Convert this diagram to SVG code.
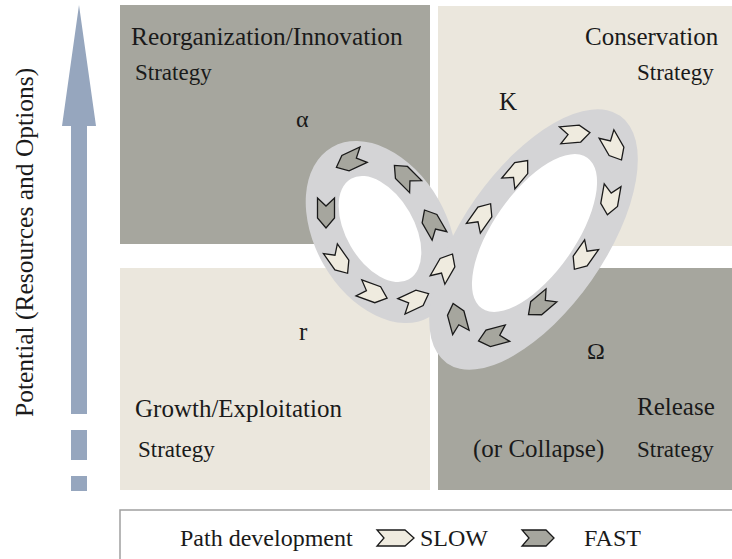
<svg xmlns="http://www.w3.org/2000/svg" xmlns:xlink="http://www.w3.org/1999/xlink" width="732" height="559" viewBox="0 0 732 559">
<defs>
<style>
.dark{fill:#a6a69e}
.light{fill:#ebe7dd}
.t{font-family:"Liberation Serif","Times New Roman",serif;fill:#1a1a1a}
.ring{fill:#d4d4d6}
.hole{fill:#ffffff}
.cl{fill:#efebdf;stroke:#1a1a1a;stroke-width:1.3;stroke-linejoin:miter}
.cd{fill:#a6a69e;stroke:#1a1a1a;stroke-width:1.3;stroke-linejoin:miter}
</style>
<polygon id="chev" points="-15,-8.5 5,-8.5 15,0 5,8.5 -15,8.5 -7,0"/>
</defs>
<rect width="732" height="559" fill="#ffffff"/>

<g id="axis">
<polygon points="79,5 96,126 87,126 87,414 71,414 71,126 62,126" fill="#96a6be"/>
<rect x="71" y="430" width="16" height="30" fill="#96a6be"/>
<rect x="71" y="476" width="16" height="15" fill="#96a6be"/>
<text class="t" font-size="25.5" transform="translate(33,417) rotate(-90)">Potential (Resources and Options)</text>
</g>

<g id="alpha-quadrant">
<rect class="dark" x="120" y="5" width="310" height="239"/>
<text class="t" x="131" y="45" font-size="25.4">Reorganization/Innovation</text>
<text class="t" x="135" y="80" font-size="23">Strategy</text>
<text class="t" x="296" y="127" font-size="24">α</text>
</g>

<g id="k-quadrant">
<rect class="light" x="438" y="6" width="294" height="240"/>
<text class="t" x="585" y="45" font-size="25">Conservation</text>
<text class="t" x="637" y="80" font-size="23">Strategy</text>
<text class="t" x="499" y="110" font-size="25">K</text>
</g>

<g id="r-quadrant">
<rect class="light" x="120" y="268" width="310" height="222"/>
<text class="t" x="299" y="340" font-size="25">r</text>
<text class="t" x="135" y="417" font-size="25">Growth/Exploitation</text>
<text class="t" x="138" y="457" font-size="23">Strategy</text>
</g>

<g id="omega-quadrant">
<rect class="dark" x="438" y="268" width="294" height="222"/>
<text class="t" x="587" y="359" font-size="24">Ω</text>
<text class="t" x="637" y="415" font-size="25">Release</text>
<text class="t" x="473" y="457" font-size="25">(or Collapse)</text>
<text class="t" x="637" y="457" font-size="23">Strategy</text>
</g>

<g id="connectors">
<g id="back-loop">
<ellipse class="ring" cx="381" cy="232" rx="98" ry="66" transform="rotate(60 381 232)"/>
<ellipse class="hole" cx="380" cy="229" rx="58" ry="34" transform="rotate(60 380 229)"/>
</g>
<g id="front-loop">
<ellipse class="ring" cx="533.5" cy="239.5" rx="151" ry="71" transform="rotate(-55 533.5 239.5)"/>
<ellipse class="hole" cx="534.5" cy="233" rx="92" ry="41" transform="rotate(-55 534.5 233)"/>
</g>
<g id="chevrons">
<use xlink:href="#chev" class="cd" transform="translate(350,161) rotate(155)"/>
<use xlink:href="#chev" class="cd" transform="translate(405,176) rotate(225)"/>
<use xlink:href="#chev" class="cd" transform="translate(432,223) rotate(240)"/>
<use xlink:href="#chev" class="cd" transform="translate(326,213) rotate(90)"/>
<use xlink:href="#chev" class="cl" transform="translate(339,261) rotate(55)"/>
<use xlink:href="#chev" class="cl" transform="translate(373,293) rotate(20)"/>
<use xlink:href="#chev" class="cl" transform="translate(415,300) rotate(-25)"/>
<use xlink:href="#chev" class="cl" transform="translate(445,267) rotate(-60)"/>
<use xlink:href="#chev" class="cl" transform="translate(482,216) rotate(-55)"/>
<use xlink:href="#chev" class="cl" transform="translate(518,172) rotate(-50)"/>
<use xlink:href="#chev" class="cl" transform="translate(575,134) rotate(-5)"/>
<use xlink:href="#chev" class="cl" transform="translate(614,147) rotate(60)"/>
<use xlink:href="#chev" class="cl" transform="translate(610,200) rotate(100)"/>
<use xlink:href="#chev" class="cl" transform="translate(583,257) rotate(125)"/>
<use xlink:href="#chev" class="cd" transform="translate(540,305) rotate(140)"/>
<use xlink:href="#chev" class="cd" transform="translate(493,337) rotate(165)"/>
<use xlink:href="#chev" class="cd" transform="translate(457,318) rotate(-105)"/>
</g>
</g>

<g id="legend">
<rect x="120" y="510" width="620" height="60" fill="#ffffff" stroke="#a0a0a0" stroke-width="1.5"/>
<text class="t" x="180" y="546" font-size="24">Path development</text>
<polygon class="cl" points="377,530 405,530 414,538 405,546 377,546 384,538"/>
<text class="t" x="420" y="546" font-size="24">SLOW</text>
<polygon class="cd" points="522,530 546,530 554,538 546,546 522,546 529,538"/>
<text class="t" x="584" y="546" font-size="24">FAST</text>
</g>
</svg>
